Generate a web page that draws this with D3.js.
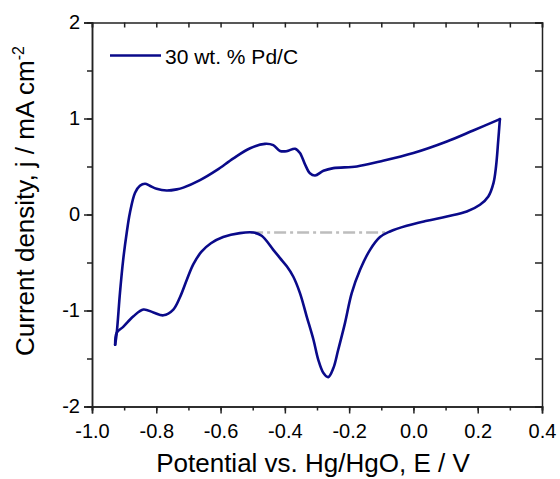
<!DOCTYPE html>
<html>
<head>
<meta charset="utf-8">
<script src="https://cdn.jsdelivr.net/npm/d3@7/dist/d3.min.js"></script>
<style>
  html, body { margin: 0; padding: 0; background: #fff; }
  svg { display: block; }
  text { font-family: Arial, "Liberation Sans", sans-serif; fill: #000; }
</style>
</head>
<body>
<svg id="chart" width="560" height="479"></svg>
<script>
// Data: cyclic voltammogram, 30 wt.% Pd/C (E in V vs Hg/HgO, j in mA cm^-2)
// anodic (forward) scan
const anodicE = [
  -0.928, -0.923, -0.913, -0.903, -0.892, -0.882, -0.866, -0.851, -0.835, -0.820, -0.799, -0.768, -0.736,
  -0.716, -0.664, -0.612, -0.560, -0.508, -0.462, -0.436, -0.415, -0.394, -0.368, -0.353, -0.337,
  -0.322, -0.306, -0.280, -0.249, -0.176, -0.104, 0.000, 0.104, 0.186, 0.269
];
const anodicJ = [
  -1.357, -1.232, -0.816, -0.472, -0.190, 0.018, 0.226, 0.299, 0.320, 0.299, 0.268, 0.250, 0.262,
  0.280, 0.358, 0.462, 0.585, 0.690, 0.736, 0.722, 0.662, 0.660, 0.685, 0.640, 0.520,
  0.430, 0.406, 0.455, 0.483, 0.500, 0.552, 0.640, 0.760, 0.875, 0.994
];
// cathodic (reverse) scan
const cathodicE = [
  0.269, 0.264, 0.257, 0.249, 0.233, 0.207, 0.166, 0.104, 0.042, -0.021, -0.073, -0.104, -0.135, -0.166,
  -0.192, -0.213, -0.234, -0.249, -0.265, -0.280, -0.296, -0.311, -0.332, -0.353, -0.374, -0.394,
  -0.415, -0.436, -0.472, -0.498, -0.540, -0.592, -0.630, -0.660, -0.685, -0.705, -0.726, -0.747, -0.778, -0.809,
  -0.840, -0.871, -0.903, -0.923, -0.928
];
const cathodicJ = [
  0.994, 0.778, 0.500, 0.327, 0.188, 0.101, 0.031, -0.021, -0.066, -0.118, -0.177, -0.235, -0.368, -0.576,
  -0.819, -1.131, -1.409, -1.600, -1.694, -1.652, -1.514, -1.305, -1.063, -0.819, -0.646, -0.540,
  -0.454, -0.368, -0.222, -0.188, -0.194, -0.235, -0.300, -0.390, -0.520, -0.680, -0.860, -0.990, -1.050, -1.020,
  -0.990, -1.060, -1.170, -1.230, -1.357
];
const seriesName = "30 wt. % Pd/C";
const refLineE = [-0.505, -0.075];
const refLineJ = [-0.1875, -0.1875];
const xTickValues = [-1.0, -0.8, -0.6, -0.4, -0.2, 0.0, 0.2, 0.4];
const yTickValues = [-2, -1, 0, 1, 2];
const xLabel = "Potential vs. Hg/HgO, E / V";
const yLabel = "Current density, j / mA cm";
const yLabelSup = "-2";

const svg = d3.select("#chart");
const m = { left: 92, right: 18, top: 22.5, bottom: 72.5 };
const W = 560, H = 479;
const x = d3.scaleLinear().domain([-1.0, 0.4]).range([m.left, W - m.right]);
const y = d3.scaleLinear().domain([-2, 2]).range([H - m.bottom, m.top]);

const axisColor = "#222";
const fmtX = d => d3.format(".1f")(d).replace("−", "-");
const fmtY = d => d3.format("d")(d).replace("−", "-");

const xMinor = d3.range(-1.0, 0.4001, 0.1).map(v => +v.toFixed(2));
const yMinor = d3.range(-2, 2.001, 0.5).map(v => +v.toFixed(2));

function styleAxis(g) {
  g.selectAll("path.domain").attr("stroke", axisColor).attr("stroke-width", 1.5);
  g.selectAll(".tick line").attr("stroke", axisColor).attr("stroke-width", 1.5);
  g.selectAll("text").attr("fill", "#000");
}

// Bottom axis
svg.append("g").attr("transform", `translate(0,${y(-2)})`)
  .call(d3.axisBottom(x).tickValues(xMinor).tickSize(4).tickFormat(""))
  .call(styleAxis);
const bx = svg.append("g").attr("transform", `translate(0,${y(-2)})`)
  .call(d3.axisBottom(x).tickValues(xTickValues).tickSize(7).tickPadding(10).tickFormat(fmtX))
  .call(styleAxis);
bx.selectAll("text").style("font-size", "20px");

// Top axis: inward ticks
svg.append("g").attr("transform", `translate(0,${y(2)})`)
  .call(d3.axisBottom(x).tickValues(xMinor).tickSize(5).tickFormat(""))
  .call(styleAxis);

// Left axis
svg.append("g").attr("transform", `translate(${x(-1.0)},0)`)
  .call(d3.axisLeft(y).tickValues(yMinor).tickSize(5).tickFormat(""))
  .call(styleAxis);
const ly = svg.append("g").attr("transform", `translate(${x(-1.0)},0)`)
  .call(d3.axisLeft(y).tickValues(yTickValues).tickSize(8).tickPadding(4).tickFormat(fmtY))
  .call(styleAxis);
ly.selectAll("text").style("font-size", "20px");

// Right axis: inward ticks
svg.append("g").attr("transform", `translate(${x(0.4)},0)`)
  .call(d3.axisRight(y).tickValues(yMinor).tickSize(-7).tickFormat(""))
  .call(styleAxis);

// Reference dash-dot line
svg.append("line")
  .attr("x1", x(refLineE[0])).attr("x2", x(refLineE[1]))
  .attr("y1", y(refLineJ[0])).attr("y2", y(refLineJ[1]))
  .attr("stroke", "#bdbdbd").attr("stroke-width", 2.5)
  .attr("stroke-dasharray", "12,4,3,4");

// CV curve: two branches so the vertices stay sharp
const line = d3.line()
  .x(d => x(d[0])).y(d => y(d[1]))
  .curve(d3.curveCatmullRom.alpha(0.5));
const branches = [
  anodicE.map((e, i) => [e, anodicJ[i]]),
  cathodicE.map((e, i) => [e, cathodicJ[i]])
];
svg.selectAll("path.cv")
  .data(branches)
  .join("path")
  .attr("class", "cv")
  .attr("d", line)
  .attr("fill", "none")
  .attr("stroke", "#0a0a8a")
  .attr("stroke-width", 2.6)
  .attr("stroke-linejoin", "round")
  .attr("stroke-linecap", "round");

// Legend
svg.append("line")
  .attr("x1", 110).attr("x2", 161).attr("y1", 55.5).attr("y2", 55.5)
  .attr("stroke", "#0a0a8a").attr("stroke-width", 2.6);
svg.append("text").attr("x", 165).attr("y", 63.5)
  .style("font-size", "21px").text(seriesName);

// Axis titles
svg.append("text")
  .attr("x", 313).attr("y", 472)
  .attr("text-anchor", "middle")
  .style("font-size", "26px")
  .text(xLabel);

const yt = svg.append("text")
  .attr("transform", `translate(34,201) rotate(-90)`)
  .attr("text-anchor", "middle")
  .style("font-size", "26px");
yt.append("tspan").text(yLabel);
yt.append("tspan").attr("dy", -10).style("font-size", "16px").text(yLabelSup);
</script>
</body>
</html>
